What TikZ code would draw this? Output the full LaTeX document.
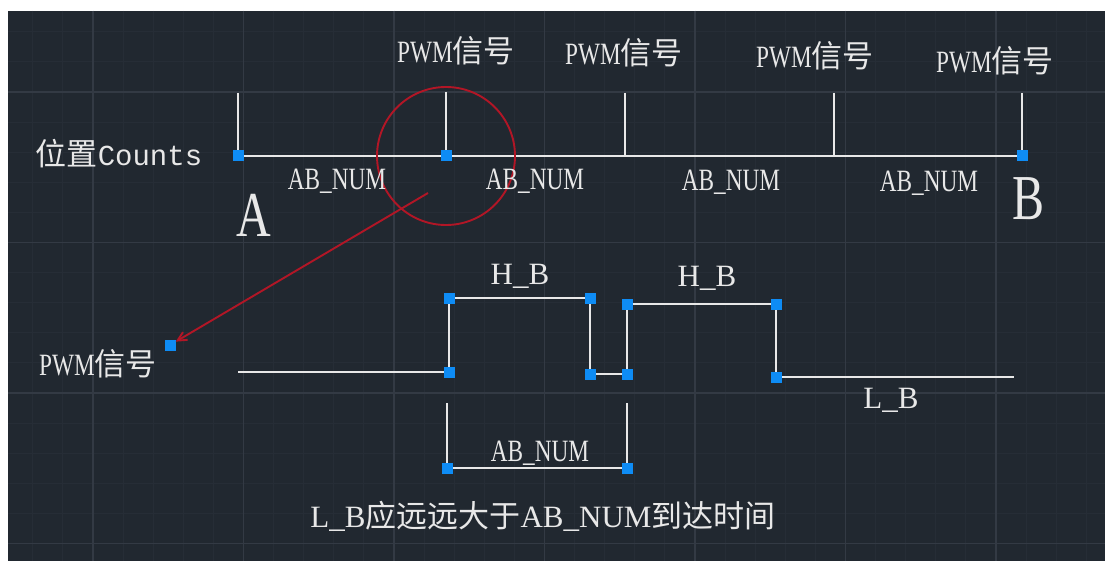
\documentclass[tikz,border=0pt]{standalone}
\usepackage{fontspec}
\setmainfont{Liberation Serif}
\newfontfamily\cjk{Noto Sans CJK SC}
\newfontfamily\narrowfont{Liberation Serif}[FakeStretch=0.75]
\newfontfamily\wideserif{Liberation Mono}
\newfontfamily\plainserif{Liberation Serif}
\usetikzlibrary{arrows.meta}

\definecolor{bgcol}{RGB}{33,40,48}
\definecolor{minorgrid}{RGB}{38,45,54}
\definecolor{majorgrid}{RGB}{51,58,68}
\definecolor{ink}{RGB}{232,232,232}
\definecolor{gripblue}{RGB}{14,140,245}
\definecolor{markred}{RGB}{178,22,38}

\newcommand\pwmtext{{\narrowfont PWM}{\cjk 信号}}

\tikzset{
  wire/.style={draw=ink, line width=2pt},
  grip/.style={rectangle, fill=gripblue, draw=none, minimum size=11pt, inner sep=0pt},
  lbl/.style={text=ink, inner sep=0pt, anchor=base, font=\fontsize{31}{36}\selectfont},
  biglbl/.style={text=ink, inner sep=0pt, anchor=base, font=\fontsize{64}{70}\selectfont\narrowfont},
  redmark/.style={draw=markred, line width=1.9pt},
}

\begin{document}
\begin{tikzpicture}[x=1pt,y=-1pt]
\useasboundingbox (0,0) rectangle (1105,561);
\fill[white] (0,0) rectangle (1105,561);
\fill[bgcol] (8,11) rectangle (1105,561);

% drawing grid
\begin{scope}
  \clip (8,11) rectangle (1105,561);
  \foreach \i in {-3,...,34} {
    \draw[minorgrid, line width=1pt] ({93+\i*30.1},11) -- ({93+\i*30.1},561);
  }
  \foreach \j in {-3,...,16} {
    \draw[minorgrid, line width=1pt] (8,{92+\j*30.1}) -- (1105,{92+\j*30.1});
  }
  \foreach \k in {-1,...,7} {
    \draw[majorgrid, line width=1.2pt] ({93+\k*150.5},11) -- ({93+\k*150.5},561);
  }
  \foreach \k in {0,...,3} {
    \draw[majorgrid, line width=1.2pt] (8,{92+\k*150.5}) -- (1105,{92+\k*150.5});
  }
\end{scope}

% position axis
\coordinate (cA) at (238,156);
\coordinate (cP1) at (446,156);
\coordinate (cM3) at (625,156);
\coordinate (cM4) at (834,156);
\coordinate (cB) at (1022,156);
\coordinate (t1) at (238,93);
\coordinate (t2) at (446,92);
\coordinate (t3) at (625,93);
\coordinate (t4) at (834,93);
\coordinate (t5) at (1022,93);
\draw[wire] (cA) -- (cB);
\draw[wire] (t1) -- (cA);
\draw[wire] (t2) -- (cP1);
\draw[wire] (t3) -- (cM3);
\draw[wire] (t4) -- (cM4);
\draw[wire] (t5) -- (cB);

% waveform
\coordinate (w0) at (238,372);
\coordinate (w1) at (449,372);
\coordinate (w2) at (449,298);
\coordinate (w3) at (590,298);
\coordinate (w4) at (590,374);
\coordinate (w5) at (627,374);
\coordinate (w6) at (627,304);
\coordinate (w7) at (776,304);
\coordinate (w8) at (776,377);
\coordinate (w9) at (1014,377);
\draw[wire] (w0) -- (w1) -- (w2) -- (w3) -- (w4) -- (w5) -- (w6) -- (w7) -- (w8) -- (w9);

% dimension of one interval
\coordinate (d0) at (447,403);
\coordinate (d1) at (447,468);
\coordinate (d2) at (627,468);
\coordinate (d3) at (627,403);
\draw[wire] (d0) -- (d1) -- (d2) -- (d3);

% red highlight and pointer
\draw[redmark] (cP1) circle (69pt);
\node[grip] (gPW) at (170,345) {};
\coordinate (rs) at (428,193);
\draw[redmark, -{Straight Barb[length=9pt,width=9pt]}] (rs) -- (gPW);

% grips
\node[grip] (gA) at (cA) {};
\node[grip] (gP1) at (cP1) {};
\node[grip] (gB) at (cB) {};
\foreach \p in {w1,w2,w3,w4,w5,w6,w7,w8,d1,d2} {
  \node[grip] (g\p) at (\p) {};
}

% labels
\node[lbl] (lpos) at (119,166) {{\cjk 位置}{\wideserif\fontsize{29}{34}\selectfont Counts}};
\node[lbl] (lp1) at (456,63) {\pwmtext};
\node[lbl] (lp2) at (624,65) {\pwmtext};
\node[lbl] (lp3) at (815,68) {\pwmtext};
\node[lbl] (lp4) at (995,73) {\pwmtext};
\node[lbl] (lab1) at (337,190) {\narrowfont AB\_NUM};
\node[lbl] (lab2) at (535,190) {\narrowfont AB\_NUM};
\node[lbl] (lab3) at (731,191) {\narrowfont AB\_NUM};
\node[lbl] (lab4) at (929,192) {\narrowfont AB\_NUM};
\node[biglbl] (lA) at (254,237) {A};
\node[biglbl] (lB) at (1028,220) {B};
\node[lbl] (lpw) at (98,375) {\pwmtext};
\node[lbl] (lhb1) at (520,284) {H\_B};
\node[lbl] (lhb2) at (707,287) {H\_B};
\node[lbl] (llb) at (891,408) {L\_B};
\node[lbl] (labd) at (540,461) {\narrowfont AB\_NUM};
\node[lbl] (lnote) at (543,527) {{\plainserif L\_B}{\cjk 应远远大于}{\plainserif AB\_NUM}{\cjk 到达时间}};
\end{tikzpicture}
\end{document}
